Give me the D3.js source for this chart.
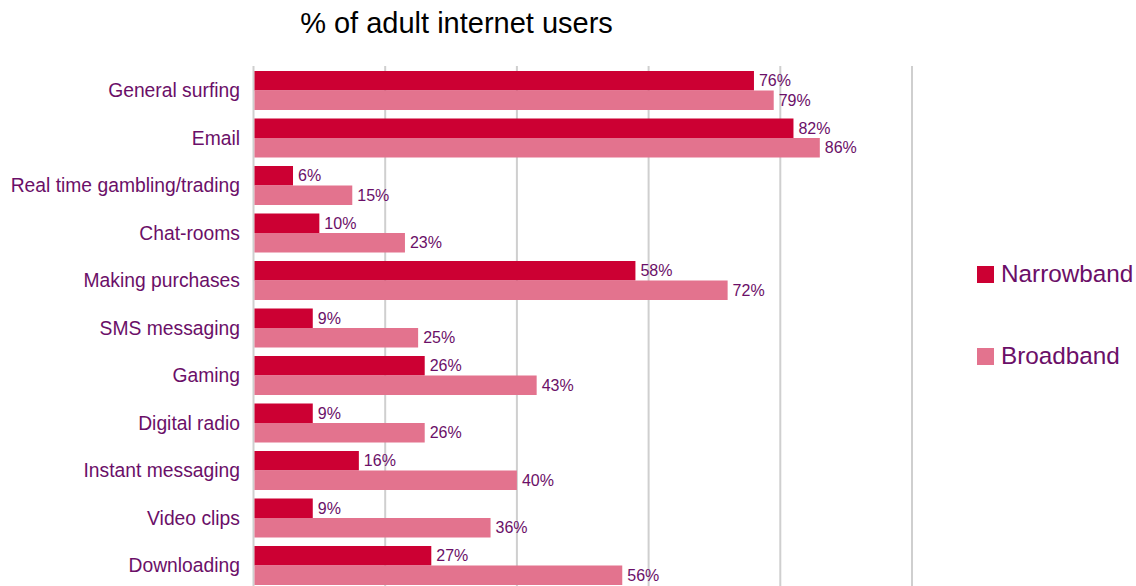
<!DOCTYPE html>
<html>
<head>
<meta charset="utf-8">
<script src="https://cdn.jsdelivr.net/npm/d3@7"></script>
<style>
  body { margin: 0; background: #fff; }
  text { font-family: "Liberation Sans", Arial, sans-serif; }
</style>
</head>
<body>
<div id="chart"></div>
<script>
var width = 1136, height = 586;

// chart data
var categories = ["General surfing", "Email", "Real time gambling/trading", "Chat-rooms",
    "Making purchases", "SMS messaging", "Gaming", "Digital radio", "Instant messaging",
    "Video clips", "Downloading"];
var narrowband = [76, 82, 6, 10, 58, 9, 26, 9, 16, 9, 27];
var broadband = [79, 86, 15, 23, 72, 25, 43, 26, 40, 36, 56];
var seriesNames = ["Narrowband", "Broadband"];
var xTicks = [0, 20, 40, 60, 80, 100];

var colors = { "Narrowband": "#cc0033", "Broadband": "#e3738e" };
var textColor = "#6b0f68";

var rows = categories.map(function (c, i) {
    return { cat: c, values: [
        { series: "Narrowband", value: narrowband[i] },
        { series: "Broadband", value: broadband[i] }
    ] };
});

var svg = d3.select("#chart").append("svg")
    .attr("width", width)
    .attr("height", height);

var x = d3.scaleLinear().domain([0, 100]).range([253.5, 912]);

var y = d3.scaleBand()
    .domain(categories)
    .range([66.75, 589.25])
    .paddingInner(0.179)
    .paddingOuter(0.0895);

var ySub = d3.scaleBand()
    .domain(seriesNames)
    .range([0, y.bandwidth()]);

// title
svg.append("text")
    .attr("x", 456.5)
    .attr("y", 33)
    .attr("text-anchor", "middle")
    .attr("font-size", 29)
    .attr("fill", "#000")
    .text("% of adult internet users");

// gridlines
svg.append("g")
    .selectAll("line")
    .data(xTicks)
    .enter().append("line")
    .attr("x1", function (d) { return x(d); })
    .attr("x2", function (d) { return x(d); })
    .attr("y1", 66)
    .attr("y2", height)
    .attr("stroke", "#cfcfcf")
    .attr("stroke-width", 2);

// category labels
svg.append("g")
    .selectAll("text")
    .data(categories)
    .enter().append("text")
    .attr("x", 240)
    .attr("y", function (d) { return y(d) + y.bandwidth() / 2; })
    .attr("dy", "0.35em")
    .attr("text-anchor", "end")
    .attr("font-size", 19.3)
    .attr("fill", textColor)
    .text(function (d) { return d; });

var group = svg.append("g")
    .selectAll("g")
    .data(rows)
    .enter().append("g")
    .attr("transform", function (d) { return "translate(0," + y(d.cat) + ")"; });

group.selectAll("rect")
    .data(function (d) { return d.values; })
    .enter().append("rect")
    .attr("x", x(0) + 1)
    .attr("y", function (d) { return ySub(d.series); })
    .attr("width", function (d) { return x(d.value) - x(0) - 1; })
    .attr("height", ySub.bandwidth())
    .attr("fill", function (d) { return colors[d.series]; });

group.selectAll("text")
    .data(function (d) { return d.values; })
    .enter().append("text")
    .attr("x", function (d) { return x(d.value) + 5; })
    .attr("y", function (d) { return ySub(d.series) + ySub.bandwidth() / 2; })
    .attr("dy", "0.35em")
    .attr("font-size", 16)
    .attr("fill", textColor)
    .text(function (d) { return d.value + "%"; });

// legend
var legend = svg.append("g")
    .selectAll("g")
    .data(seriesNames)
    .enter().append("g")
    .attr("transform", function (d, i) { return "translate(977," + (266 + i * 82) + ")"; });

legend.append("rect")
    .attr("width", 17)
    .attr("height", 17)
    .attr("fill", function (d) { return colors[d]; });

legend.append("text")
    .attr("x", 24)
    .attr("y", 16)
    .attr("font-size", 24.3)
    .attr("fill", textColor)
    .text(function (d) { return d; });
</script>
</body>
</html>
